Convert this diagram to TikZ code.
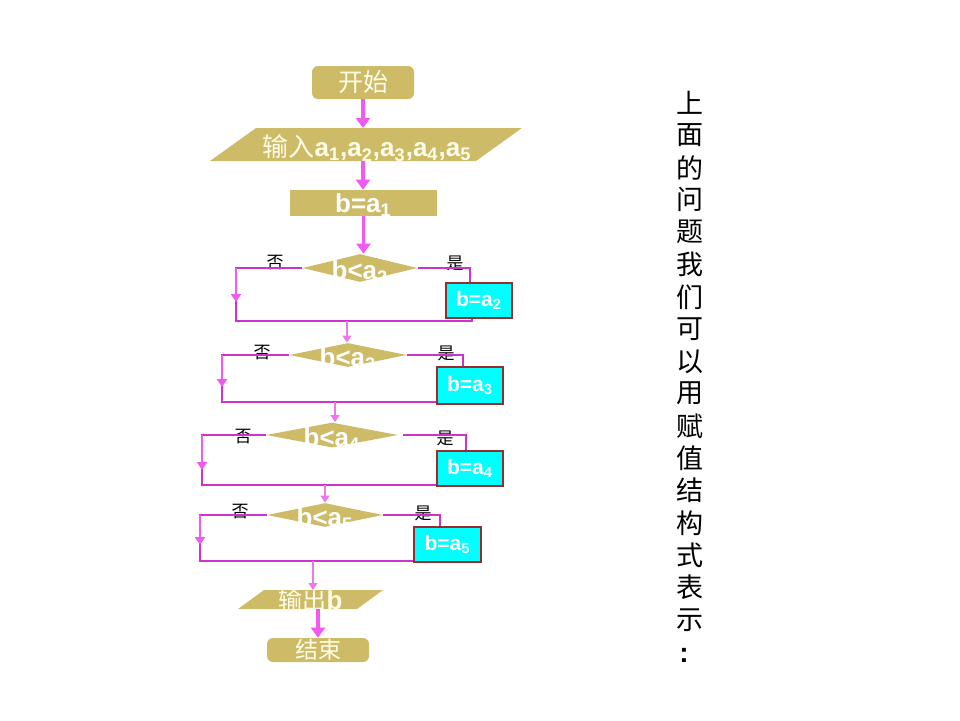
\documentclass[tikz,border=0pt]{standalone}
\usepackage{fontspec}
\setmainfont{Liberation Sans}
\newfontfamily\cjk{Noto Sans CJK SC}
\usetikzlibrary{arrows.meta,shapes.geometric}
\definecolor{tanc}{RGB}{205,187,104}
\definecolor{cream}{RGB}{255,253,232}
\definecolor{amag}{RGB}{240,90,240}
\definecolor{amag2}{RGB}{236,120,236}
\definecolor{lmag}{RGB}{204,51,204}
\definecolor{cyanc}{RGB}{0,255,255}
\definecolor{boxred}{RGB}{150,45,45}
\begin{document}
\begin{tikzpicture}[x=0.5pt,y=-0.5pt,
  termbox/.style={fill=tanc, rounded corners=3pt, inner sep=0pt, text=cream, font=\cjk\fontsize{12.5}{14}\selectfont},
  procbox/.style={fill=tanc, inner sep=0pt, text=white, font=\bfseries\fontsize{13}{15}\selectfont},
  ptext/.style={inner sep=0pt, text=cream, font=\bfseries\fontsize{13}{15}\selectfont},
  decbox/.style={diamond, fill=tanc, inner sep=0pt},
  dtext/.style={inner sep=0pt, text=white, font=\bfseries\fontsize{13}{15}\selectfont},
  cyanbox/.style={fill=cyanc, draw=boxred, line width=0.6pt, inner sep=0pt, text=white, font=\bfseries\fontsize{10.5}{12}\selectfont},
  bigarrow/.style={draw=amag, line width=1.8pt, -{Triangle[length=5pt,width=7pt]}},
  smallarrow/.style={draw=amag2, line width=0.6pt, -{Triangle[length=3.5pt,width=4.5pt]}},
  downarrow/.style={draw=amag, line width=1.3pt, -{Triangle[length=4pt,width=5pt]}},
  loopline/.style={draw=lmag, line width=0.6pt},
  yesno/.style={inner sep=0pt, text=black, font=\cjk\fontsize{8.5}{10}\selectfont},
  vtext/.style={inner sep=0pt, text=black, font=\cjk\fontsize{13.5}{16}\selectfont}]
\useasboundingbox (0,0) rectangle (960,720);

% start
\node[termbox, minimum width=51pt, minimum height=16.5pt] (start) at (363,82.5) {开始};

% input parallelogram
\coordinate (inTL) at (256,128); \coordinate (inTR) at (522,128);
\coordinate (inBR) at (476,161); \coordinate (inBL) at (210,161);
\fill[tanc] (inTL) -- (inTR) -- (inBR) -- (inBL) -- cycle;
\node[ptext] (input) at (367,148) {{\cjk\fontsize{13}{15}\selectfont\mdseries 输入}a\textsubscript{1},a\textsubscript{2},a\textsubscript{3},a\textsubscript{4},a\textsubscript{5}};

% b=a1
\node[procbox, minimum width=73.5pt, minimum height=13pt] (b1) at (363.5,203) {};
\node[dtext] (b1t) at (363.5,205) {b=a\textsubscript{1}};

\draw[bigarrow] (start.south) -- (start.south |- inTL);
\coordinate (inB) at (363,161);
\draw[bigarrow] (inB) -- (inB |- b1.north);

% ---- decision 2
\node[decbox, minimum width=57.5pt, minimum height=14pt] (d2) at (360,268) {};
\node[dtext] (d2t) at (360,272) {b<a\textsubscript{2}};
\draw[bigarrow] (b1.south) -- (b1.south |- d2.north);
\node[cyanbox, minimum width=33pt, minimum height=17.5pt] (box2) at (479,300.5) {b=a\textsubscript{2}};
\node[yesno] (n2) at (275,263) {否};
\node[yesno] (y2) at (455,263) {是};
\coordinate (L2) at (236,268); \coordinate (A2) at (236,302);
\coordinate (B2) at (236,321); \coordinate (E2) at (472,321);
\coordinate (R2) at (470,268); \coordinate (M2) at (347,321);
\draw[loopline] (d2.west) -- (L2) -- (B2) -- (E2) -- (E2 |- box2.south);
\draw[downarrow] (L2) -- (A2);
\draw[loopline] (d2.east) -- (R2) -- (R2 |- box2.north);

% ---- decision 3
\node[decbox, minimum width=59pt, minimum height=12pt] (d3) at (348,355) {};
\node[dtext] (d3t) at (348,359) {b<a\textsubscript{3}};
\draw[smallarrow] (M2) -- (M2 |- d3.north);
\node[cyanbox, minimum width=33pt, minimum height=18.5pt] (box3) at (470,385.5) {b=a\textsubscript{3}};
\node[yesno] (n3) at (262,353) {否};
\node[yesno] (y3) at (446,353) {是};
\coordinate (L3) at (222,355); \coordinate (A3) at (222,387);
\coordinate (B3) at (222,402); \coordinate (R3) at (463,355);
\coordinate (M3) at (335,402);
\draw[loopline] (d3.west) -- (L3) -- (B3) -- (B3 -| box3.west);
\draw[downarrow] (L3) -- (A3);
\draw[loopline, line width=1pt] (d3.east) -- (R3) -- (R3 |- box3.north);

% ---- decision 4
\node[decbox, minimum width=66pt, minimum height=12.5pt] (d4) at (332,435) {};
\node[dtext] (d4t) at (332,439) {b<a\textsubscript{4}};
\draw[smallarrow] (M3) -- (M3 |- d4.north);
\node[cyanbox, minimum width=33pt, minimum height=17.5pt] (box4) at (470,468.5) {b=a\textsubscript{4}};
\node[yesno] (n4) at (243,437) {否};
\node[yesno] (y4) at (445,438) {是};
\coordinate (L4) at (202,435); \coordinate (A4) at (202,470);
\coordinate (B4) at (202,485); \coordinate (R4) at (466,435);
\coordinate (M4) at (325,485);
\draw[loopline] (d4.west) -- (L4) -- (B4) -- (B4 -| box4.west);
\draw[downarrow] (L4) -- (A4);
\draw[loopline] ([xshift=2.5pt]d4.east) -- (R4) -- (R4 |- box4.north);

% ---- decision 5
\node[decbox, minimum width=58pt, minimum height=12pt] (d5) at (325,515) {};
\node[dtext] (d5t) at (325,519) {b<a\textsubscript{5}};
\draw[smallarrow] (M4) -- (M4 |- d5.north);
\node[cyanbox, minimum width=33.5pt, minimum height=17.5pt] (box5) at (447.5,544.5) {b=a\textsubscript{5}};
\node[yesno] (n5) at (240,512) {否};
\node[yesno] (y5) at (423,513) {是};
\coordinate (L5) at (200,515); \coordinate (A5) at (200,545);
\coordinate (B5) at (200,561); \coordinate (R5) at (440,515);
\coordinate (M5) at (313,561);
\draw[loopline] (d5.west) -- (L5) -- (B5) -- (B5 -| box5.west);
\draw[downarrow] (L5) -- (A5);
\draw[loopline] (d5.east) -- (R5) -- (R5 |- box5.north);

% output parallelogram
\coordinate (outTL) at (264,590); \coordinate (outTR) at (383,590);
\coordinate (outBR) at (357,609); \coordinate (outBL) at (238,609);
\fill[tanc] (outTL) -- (outTR) -- (outBR) -- (outBL) -- cycle;
\node[ptext] (output) at (310.5,600) {{\cjk\fontsize{12}{14}\selectfont\mdseries 输出}b};
\draw[smallarrow] (M5) -- (M5 |- outTL);

% end
\node[termbox, minimum width=51pt, minimum height=12pt, font=\cjk\fontsize{11.5}{13}\selectfont] (end) at (318,650) {结束};
\coordinate (outB) at (318,609);
\draw[bigarrow] (outB) -- (outB |- end.north);

% vertical text
\foreach \c [count=\i] in {上,面,的,问,题,我,们,可,以,用,赋,值,结,构,式,表,示}
  \node[vtext] (v\i) at (690,{103+32.3*(\i-1)}) {\c};
\node[vtext, font=\bfseries\fontsize{14}{16}\selectfont] (vcolon) at (684,655) {:};
\end{tikzpicture}
\end{document}
